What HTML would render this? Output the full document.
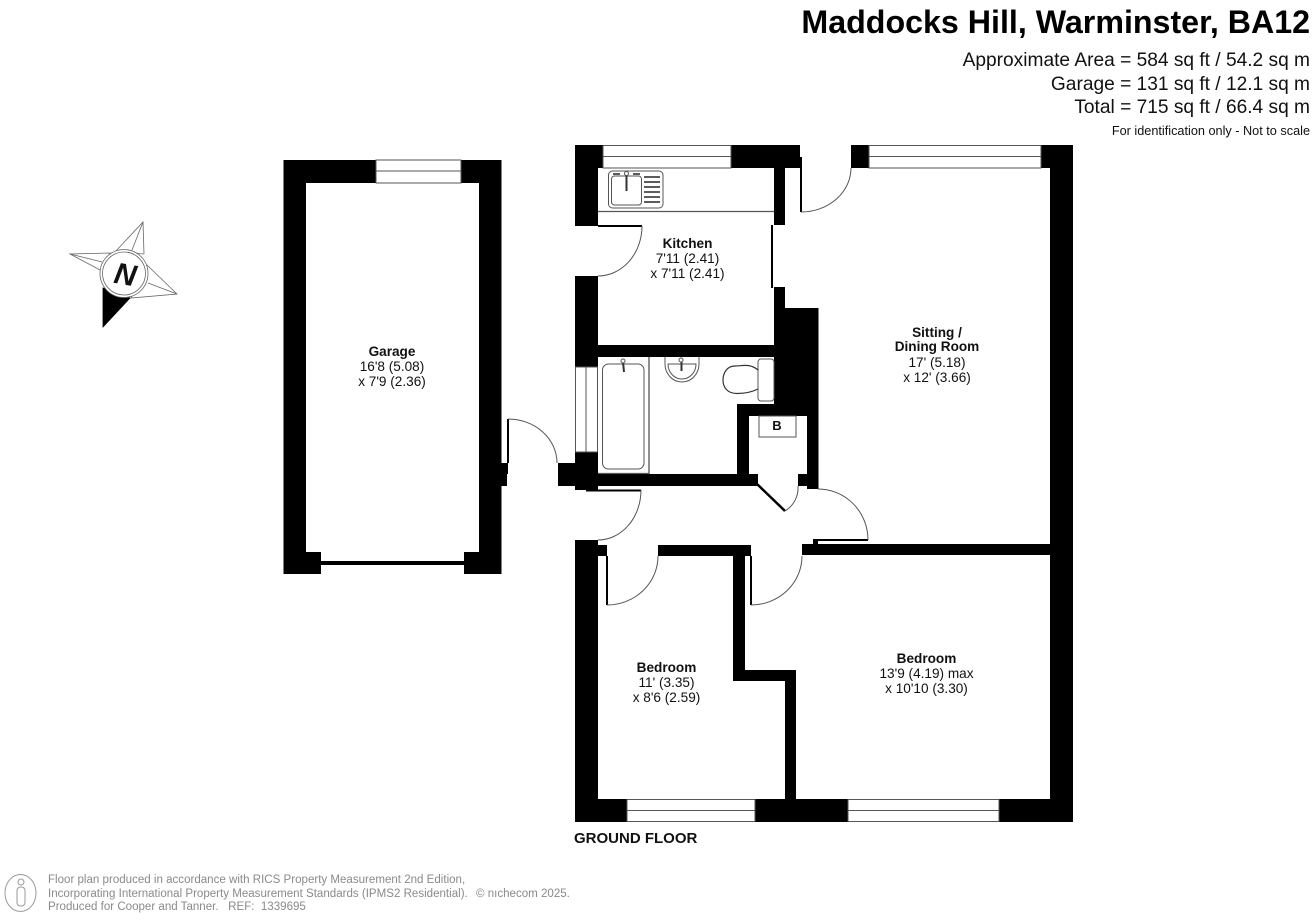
<!DOCTYPE html>
<html lang="en">
<head>
<meta charset="utf-8">
<title>Maddocks Hill, Warminster, BA12</title>
<style>
html,body{margin:0;padding:0;background:#fff;}
svg{display:block;}
text{font-family:"Liberation Sans",sans-serif;fill:#111;white-space:pre;}
.b{font-weight:bold;}
.l{font-size:13.6px;text-anchor:middle;}
.f{font-size:11.55px;fill:#8a8a8a;}
.r{text-anchor:end;}
</style>
</head>
<body>
<svg width="1314" height="920" viewBox="0 0 1314 920" xmlns="http://www.w3.org/2000/svg">
<rect width="1314" height="920" fill="#fff"/>

<!-- Header -->
<text x="1310" y="33" class="b r" font-size="32.2" style="fill:#000">Maddocks Hill, Warminster, BA12</text>
<text x="1310" y="66" class="r" font-size="19.15">Approximate Area = 584 sq ft / 54.2 sq m</text>
<text x="1310" y="90" class="r" font-size="19.15">Garage = 131 sq ft / 12.1 sq m</text>
<text x="1310" y="113" class="r" font-size="19.15">Total = 715 sq ft / 66.4 sq m</text>
<text x="1310" y="135" class="r" font-size="12.7">For identification only - Not to scale</text>

<!-- Compass -->
<g fill="#fff" stroke="#666" stroke-width="0.8">
  <polygon points="115,252 143,222 144,254"/>
  <line x1="143" y1="222" x2="132" y2="250"/>
  <polygon points="110,253 70,254 100,270"/>
  <line x1="70" y1="254" x2="102" y2="262"/>
  <polygon points="147,265 177,294 131,298"/>
  <line x1="177" y1="294" x2="148" y2="283"/>
  <polygon points="103,327 103,288 130,298" fill="#000" stroke="#000"/>
  <circle cx="124" cy="273.5" r="24"/>
  <circle cx="124" cy="273.5" r="21.5"/>
</g>
<text x="0" y="0" class="b" font-size="30" font-style="italic" text-anchor="middle" transform="translate(123.5 284.5) rotate(10)" style="fill:#111">N</text>

<!-- Garage walls -->
<g fill="#000">
  <rect x="283.5" y="160" width="22.5" height="414"/>
  <rect x="479" y="160" width="22.5" height="414"/>
  <rect x="283.5" y="160" width="218" height="23"/>
  <rect x="283.5" y="552" width="37.5" height="22"/>
  <rect x="464" y="552" width="37.5" height="22"/>
  <rect x="321" y="561" width="143" height="4"/>
  <rect x="501" y="463" width="7" height="11"/>
  <rect x="501" y="474" width="6" height="12"/>
</g>
<rect x="376" y="160" width="85" height="23" fill="#fff" stroke="#555" stroke-width="1"/>
<line x1="376" y1="171" x2="461" y2="171" stroke="#555" stroke-width="1"/>

<!-- Main walls -->
<g fill="#000">
  <!-- outer left -->
  <rect x="575" y="145" width="23" height="81"/>
  <rect x="575" y="276" width="23" height="91"/>
  <rect x="575" y="452" width="23" height="38"/>
  <rect x="558" y="463" width="17" height="23"/>
  <rect x="575" y="540" width="23" height="282"/>
  <!-- top kitchen -->
  <rect x="575" y="145" width="225" height="23"/>
  <!-- kitchen right -->
  <rect x="774" y="168" width="11" height="57"/>
  <rect x="774" y="287" width="11" height="30"/>
  <rect x="771" y="225" width="2" height="63"/>
  <!-- kitchen bottom -->
  <rect x="598" y="345" width="176" height="12"/>
  <!-- chimney block -->
  <rect x="774" y="308" width="44.5" height="96"/>
  <rect x="737" y="404" width="81.5" height="12"/>
  <rect x="737" y="404" width="12" height="82"/>
  <rect x="807" y="416" width="11.5" height="73"/>
  <rect x="798" y="474" width="10" height="12"/>
  <!-- bath bottom -->
  <rect x="598" y="474" width="160" height="12"/>
  <!-- hall lower -->
  <rect x="598" y="545" width="9" height="11"/>
  <rect x="658" y="545" width="93" height="11"/>
  <rect x="733" y="556" width="12" height="125"/>
  <rect x="733" y="670" width="63" height="11"/>
  <rect x="785" y="670" width="11" height="152"/>
  <rect x="802" y="544" width="271" height="11"/>
  <rect x="813" y="539" width="5" height="5"/>
  <!-- sitting room top -->
  <rect x="851" y="145" width="222" height="23"/>
  <!-- right -->
  <rect x="1050" y="145" width="23" height="677"/>
  <!-- bottom -->
  <rect x="575" y="799" width="498" height="23"/>
</g>

<!-- Windows -->
<g fill="#fff" stroke="#555" stroke-width="1">
  <rect x="603" y="145.5" width="128" height="22.5"/>
  <line x1="603" y1="156.5" x2="731" y2="156.5"/>
  <rect x="869" y="145.5" width="172" height="22.5"/>
  <line x1="869" y1="156.5" x2="1041" y2="156.5"/>
  <rect x="627" y="799.5" width="128" height="22"/>
  <line x1="627" y1="810.5" x2="755" y2="810.5"/>
  <rect x="848" y="799.5" width="151" height="22"/>
  <line x1="848" y1="810.5" x2="999" y2="810.5"/>
  <rect x="575.5" y="367" width="22" height="85"/>
  <line x1="586" y1="367" x2="586" y2="452"/>
</g>

<!-- Doors -->
<g fill="none" stroke="#000" stroke-width="2">
  <line x1="801" y1="157" x2="801" y2="212"/>
  <line x1="598" y1="226" x2="642" y2="226"/>
  <line x1="508" y1="419" x2="508" y2="463"/>
  <line x1="586" y1="490.5" x2="641" y2="490.5"/>
  <line x1="607" y1="556" x2="607" y2="605"/>
  <line x1="751" y1="556" x2="751" y2="605"/>
  <line x1="813" y1="540" x2="868" y2="540"/>
  <line x1="757" y1="484" x2="785" y2="511" stroke-width="2.5"/>
</g>
<g fill="none" stroke="#555" stroke-width="1">
  <path d="M801 212 A50 44 0 0 0 851 168"/>
  <path d="M598 276 A44 50 0 0 0 642 226"/>
  <path d="M508 419 A49 44 0 0 1 557 463"/>
  <path d="M641 490 A43 50 0 0 1 598 540"/>
  <path d="M607 605 A51 49 0 0 0 658 556"/>
  <path d="M751 605 A51 49 0 0 0 802 556"/>
  <path d="M818 489 A50 51 0 0 1 868 540"/>
  <path d="M785 511 A27 27 0 0 0 798 486"/>
</g>

<!-- Kitchen worktop & sink -->
<g fill="none" stroke="#555" stroke-width="1">
  <line x1="598" y1="211.5" x2="774" y2="211.5" stroke-width="1.2"/>
  <rect x="608.5" y="171" width="54.5" height="37" rx="4"/>
  <rect x="611.5" y="176" width="30" height="29" rx="3"/>
  <g stroke="#333" stroke-width="1.6">
    <line x1="644" y1="177" x2="660" y2="177"/>
    <line x1="644" y1="182" x2="660" y2="182"/>
    <line x1="644" y1="187" x2="660" y2="187"/>
    <line x1="644" y1="192" x2="660" y2="192"/>
    <line x1="644" y1="197" x2="660" y2="197"/>
    <line x1="644" y1="202" x2="660" y2="202"/>
    <line x1="626.5" y1="174" x2="626.5" y2="191" stroke-width="2"/>
    <line x1="613" y1="174" x2="620" y2="174"/>
    <line x1="633" y1="174" x2="640" y2="174"/>
  </g>
  <circle cx="626.5" cy="173.5" r="2" fill="#fff"/>
</g>

<!-- Bathroom -->
<g fill="none" stroke="#555" stroke-width="1">
  <rect x="602.5" y="364" width="41.5" height="105" rx="6"/>
  <line x1="649" y1="357" x2="649" y2="474" stroke-width="1.3"/>
  <line x1="598" y1="473.5" x2="649" y2="473.5" stroke-width="1.3"/>
  <path d="M665 357 V364 A17 18 0 0 0 699 364 V357"/>
  <path d="M668 364 A14 15 0 0 0 696 364 Z"/>
  <line x1="623" y1="362" x2="624" y2="372" stroke="#333" stroke-width="2"/>
  <circle cx="623" cy="361" r="2" fill="#fff"/>
  <line x1="681.5" y1="362" x2="681.5" y2="371" stroke="#333" stroke-width="2"/>
  <circle cx="681" cy="360" r="2" fill="#fff"/>
  <rect x="758" y="359" width="16" height="42" rx="3" fill="#fff"/>
  <path d="M758 370 C750 363 742 366 735 366 C727 366 723 373 723 380 C723 388 728 393.5 737 393.5 C745 393.5 752 392 758 389" stroke="#333" stroke-width="1.2"/>
  <rect x="759" y="416" width="37" height="21"/>
</g>
<text x="777" y="430" class="b" font-size="13" text-anchor="middle" style="fill:#111">B</text>

<!-- Room labels -->
<text x="392" y="356" class="l b">Garage</text>
<text x="392" y="371" class="l">16'8 (5.08)</text>
<text x="392" y="386" class="l">x 7'9 (2.36)</text>

<text x="687.5" y="248" class="l b">Kitchen</text>
<text x="687.5" y="263" class="l">7'11 (2.41)</text>
<text x="687.5" y="278" class="l">x 7'11 (2.41)</text>

<text x="937" y="337" class="l b">Sitting /</text>
<text x="937" y="351" class="l b">Dining Room</text>
<text x="937" y="367" class="l">17' (5.18)</text>
<text x="937" y="382" class="l">x 12' (3.66)</text>

<text x="666.5" y="672" class="l b">Bedroom</text>
<text x="666.5" y="687" class="l">11' (3.35)</text>
<text x="666.5" y="702" class="l">x 8'6 (2.59)</text>

<text x="926.5" y="663" class="l b">Bedroom</text>
<text x="926.5" y="678" class="l">13'9 (4.19) max</text>
<text x="926.5" y="693" class="l">x 10'10 (3.30)</text>

<text x="574" y="843" class="b" font-size="15">GROUND FLOOR</text>

<!-- Footer -->
<g fill="none" stroke="#999" stroke-width="1">
  <ellipse cx="20.5" cy="893" rx="15.5" ry="18.5"/>
  <circle cx="21" cy="882" r="3"/>
  <rect x="17" y="887" width="8" height="19" rx="3.5"/>
</g>
<text x="48" y="883" class="f">Floor plan produced in accordance with RICS Property Measurement 2nd Edition,</text>
<text x="48" y="897" class="f">Incorporating International Property Measurement Standards (IPMS2 Residential).</text>
<text x="476" y="897" class="f">© nıchecom 2025.</text>
<text x="48" y="910" class="f">Produced for Cooper and Tanner.   REF:  1339695</text>
</svg>
</body>
</html>
